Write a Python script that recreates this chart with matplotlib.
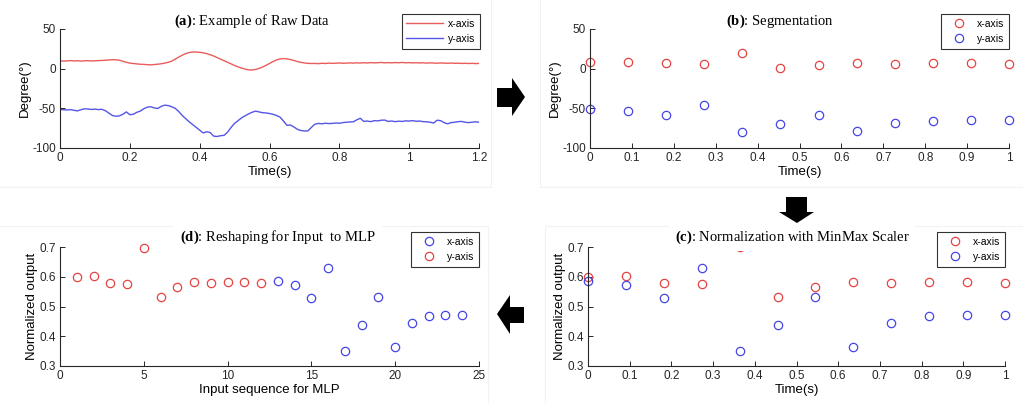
import numpy as np
import matplotlib.pyplot as plt
from matplotlib.patches import Polygon, Rectangle
from matplotlib.ticker import FuncFormatter

plt.rcParams['font.family'] = 'Liberation Sans'
plt.rcParams['mathtext.fontset'] = 'custom'
plt.rcParams['mathtext.rm'] = 'Liberation Serif'
plt.rcParams['mathtext.bf'] = 'Liberation Serif:bold'

# raw IMU angles, sampled every 10 ms
raw_t = np.arange(121) * 0.01
raw_x = [10.0, 9.6, 9.8, 10.2, 9.7, 10.0, 9.5, 9.9, 10.1, 9.7,
         9.9, 10.2, 10.3, 10.6, 11.0, 11.3, 11.2, 10.6, 9.4, 8.0,
         7.0, 6.5, 6.0, 5.6, 5.4, 5.0, 4.8, 5.2, 5.6, 6.2,
         7.0, 8.0, 9.5, 12.0, 14.5, 17.0, 19.0, 20.3, 21.0, 21.0,
         20.6, 20.0, 19.0, 17.5, 16.0, 14.0, 12.0, 10.0, 8.0, 6.0,
         4.0, 2.3, 0.8, -0.5, -1.5, -1.7, -1.0, 0.3, 2.0, 4.2,
         6.5, 9.0, 11.0, 12.3, 12.7, 12.3, 11.5, 10.3, 9.0, 8.0,
         7.2, 6.7, 6.5, 6.6, 6.3, 6.8, 6.5, 7.0, 6.7, 6.9,
         7.2, 6.8, 7.0, 7.3, 7.0, 7.4, 7.1, 7.5, 7.2, 7.6,
         7.3, 7.5, 7.8, 7.4, 7.6, 7.3, 7.7, 7.5, 7.8, 7.4,
         7.6, 7.3, 7.5, 7.2, 7.4, 7.0, 7.3, 7.1, 6.9, 7.2,
         7.0, 6.8, 7.1, 6.7, 6.9, 6.6, 6.8, 6.5, 6.7, 6.4,
         6.6]
raw_y = [-51.5, -51.8, -52.0, -51.6, -52.5, -53.2, -51.8, -50.6, -50.8, -51.4,
         -51.0, -51.6, -51.2, -53.0, -56.0, -59.0, -60.0, -59.5, -57.5, -54.5,
         -58.0, -57.5, -55.0, -53.5, -50.5, -48.5, -48.0, -49.5, -50.2, -47.5,
         -46.0, -46.5, -48.0, -50.0, -54.0, -59.0, -63.0, -67.0, -70.5, -74.0,
         -77.5, -81.0, -79.5, -80.5, -85.0, -85.5, -84.5, -84.0, -80.0, -74.0,
         -69.0, -65.5, -62.0, -59.5, -57.0, -55.0, -53.5, -54.5, -55.5, -55.8,
         -56.5, -57.5, -59.0, -61.0, -66.0, -71.5, -71.0, -73.5, -76.5, -78.0,
         -78.5, -78.5, -74.0, -70.0, -69.0, -69.5, -68.8, -69.2, -69.0, -68.5,
         -68.8, -68.0, -67.5, -67.2, -67.0, -64.5, -62.5, -66.5, -66.0, -66.8,
         -65.5, -65.8, -65.0, -64.8, -66.5, -66.0, -66.8, -66.2, -66.5, -65.8,
         -66.0, -65.5, -66.3, -66.0, -66.8, -67.0, -67.5, -68.5, -65.0, -65.5,
         -68.0, -69.5, -68.0, -67.5, -66.8, -66.5, -67.5, -68.0, -67.5, -67.0,
         -67.5]

# one sample per segment (12 segments over 1 s)
seg_t = np.arange(12) / 11
seg_x = [9, 9, 7, 6, 20, 1, 5, 7, 6, 7, 7, 6]
seg_y = [-51, -53, -58, -46, -80, -70, -58, -79, -69, -66, -65, -65]

# min-max scaled segments
norm_x = [0.600, 0.601, 0.580, 0.575, 0.700, 0.533, 0.567, 0.584, 0.578, 0.584, 0.584, 0.580]
norm_y = [0.585, 0.572, 0.528, 0.628, 0.352, 0.438, 0.532, 0.364, 0.443, 0.467, 0.473, 0.473]

# concatenated MLP input vector
mlp_idx = np.arange(1, 25)
mlp_first = [0.600, 0.601, 0.580, 0.575, 0.698, 0.533, 0.567, 0.584, 0.578, 0.584, 0.584, 0.580]
mlp_second = norm_y

RED = '#e64343'
BLUE = '#4545e8'
LRED = '#ea5c5c'
LBLUE = '#5555e8'

W, H = 1023, 403
fig = plt.figure(figsize=(W / 100, H / 100), dpi=100)


def px_box(x0, y0, x1, y1):
    return [x0 / W, 1 - y1 / H, (x1 - x0) / W, (y1 - y0) / H]


# faint outlines around each panel
for x0, y0, x1, y1 in [(-5, -5, 491, 187), (540, -5, 1030, 187),
                       (-5, 226, 488, 410), (545, 226, 1030, 410)]:
    fig.patches.append(Rectangle((x0 / W, 1 - y1 / H), (x1 - x0) / W, (y1 - y0) / H,
                                 transform=fig.transFigure, facecolor='none',
                                 edgecolor='#f2f2f2', lw=0.8))

fmt = FuncFormatter(lambda v, p: f'{v:g}')


def style(ax, xlabel, ylabel):
    for s in ('top', 'right'):
        ax.spines[s].set_visible(False)
    for s in ('left', 'bottom'):
        ax.spines[s].set_color('#262626')
        ax.spines[s].set_linewidth(0.8)
    ax.tick_params(direction='in', length=3.5, width=0.7, labelsize=8.5,
                   colors='#262626', pad=3)
    ax.xaxis.set_major_formatter(fmt)
    ax.yaxis.set_major_formatter(fmt)
    ax.set_xlabel(xlabel, fontsize=9.5, labelpad=1)
    ax.set_ylabel(ylabel, fontsize=9.5, labelpad=1)


def add_legend(ax, right, top, hlen=2.0):
    leg = ax.legend(loc='upper right', bbox_to_anchor=(right / W, 1 - top / H),
                    bbox_transform=fig.transFigure, fontsize=7.5, frameon=True,
                    fancybox=False, framealpha=1, edgecolor='#333333',
                    borderpad=0.45, labelspacing=0.5, handletextpad=0.5,
                    handlelength=hlen, borderaxespad=0)
    leg.get_frame().set_linewidth(0.8)
    return leg


def title(x, y, tag, text):
    fig.text(x / W, 1 - y / H, r'$\mathbf{(' + tag + r')}$: ' + text,
             ha='center', va='center', fontsize=10.5, family='Liberation Serif',
             bbox=dict(facecolor='white', edgecolor='none', pad=4))


mk = dict(linestyle='none', marker='o', markersize=6, markerfacecolor='none',
          markeredgewidth=0.9, clip_on=False)

# (a) raw data
ax_a = fig.add_axes(px_box(60, 29, 479, 148))
ax_a.plot(raw_t, raw_x, color=LRED, lw=1.0, label='x-axis')
ax_a.plot(raw_t, raw_y, color=LBLUE, lw=1.0, label='y-axis')
ax_a.set_xlim(0, 1.2)
ax_a.set_ylim(-100, 50)
ax_a.set_xticks(np.arange(0, 1.21, 0.2))
ax_a.set_yticks([-100, -50, 0, 50])
style(ax_a, 'Time(s)', 'Degree(°)')
add_legend(ax_a, 480, 14, hlen=3.5)
title(252, 21, 'a', 'Example of Raw Data')

# (b) segmentation
ax_b = fig.add_axes(px_box(590, 29, 1009, 148))
ax_b.plot(seg_t, seg_x, color=RED, markeredgecolor=RED, label='x-axis', **mk)
ax_b.plot(seg_t, seg_y, color=BLUE, markeredgecolor=BLUE, label='y-axis', **mk)
ax_b.set_xlim(0, 1)
ax_b.set_ylim(-100, 50)
ax_b.set_xticks(np.arange(0, 1.01, 0.1))
ax_b.set_yticks([-100, -50, 0, 50])
style(ax_b, 'Time(s)', 'Degree(°)')
add_legend(ax_b, 1009, 14, hlen=2.5)
title(780, 21, 'b', 'Segmentation')

# (c) normalization
ax_c = fig.add_axes(px_box(588, 247, 1005, 366))
ax_c.plot(seg_t, norm_x, color=RED, markeredgecolor=RED, label='x-axis', **mk)
ax_c.plot(seg_t, norm_y, color=BLUE, markeredgecolor=BLUE, label='y-axis', **mk)
ax_c.set_xlim(0, 1)
ax_c.set_ylim(0.3, 0.7)
ax_c.set_xticks(np.arange(0, 1.01, 0.1))
ax_c.set_yticks(np.arange(0.3, 0.71, 0.1))
style(ax_c, 'Time(s)', 'Normalized output')
add_legend(ax_c, 1005, 232, hlen=2.5)
title(792, 237, 'c', 'Normalization with MinMax Scaler')

# (d) reshaped input
ax_d = fig.add_axes(px_box(60, 247, 479, 366))
ax_d.plot(mlp_idx[12:], mlp_second, color=BLUE, markeredgecolor=BLUE, label='x-axis', **mk)
ax_d.plot(mlp_idx[:12], mlp_first, color=RED, markeredgecolor=RED, label='y-axis', **mk)
ax_d.set_xlim(0, 25)
ax_d.set_ylim(0.3, 0.7)
ax_d.set_xticks(np.arange(0, 26, 5))
ax_d.set_yticks(np.arange(0.3, 0.71, 0.1))
style(ax_d, 'Input sequence for MLP', 'Normalized output')
add_legend(ax_d, 479, 232, hlen=2.5)
title(278, 237, 'd', 'Reshaping for Input  to MLP')

# flow arrows between panels (pixel outlines)
arrows = [
    [(497, 88), (512, 88), (512, 78), (525, 97), (512, 116), (512, 107), (497, 107)],
    [(786, 197), (807, 197), (807, 212), (814, 212), (797, 223), (779, 212), (786, 212)],
    [(524, 307), (510, 307), (510, 295), (497, 314), (510, 334), (510, 323), (524, 323)],
]
for pts in arrows:
    fig.patches.append(Polygon([(x / W, 1 - y / H) for x, y in pts], closed=True,
                               transform=fig.transFigure, facecolor='black',
                               edgecolor='none'))

fig.savefig('out.png', dpi=100)
